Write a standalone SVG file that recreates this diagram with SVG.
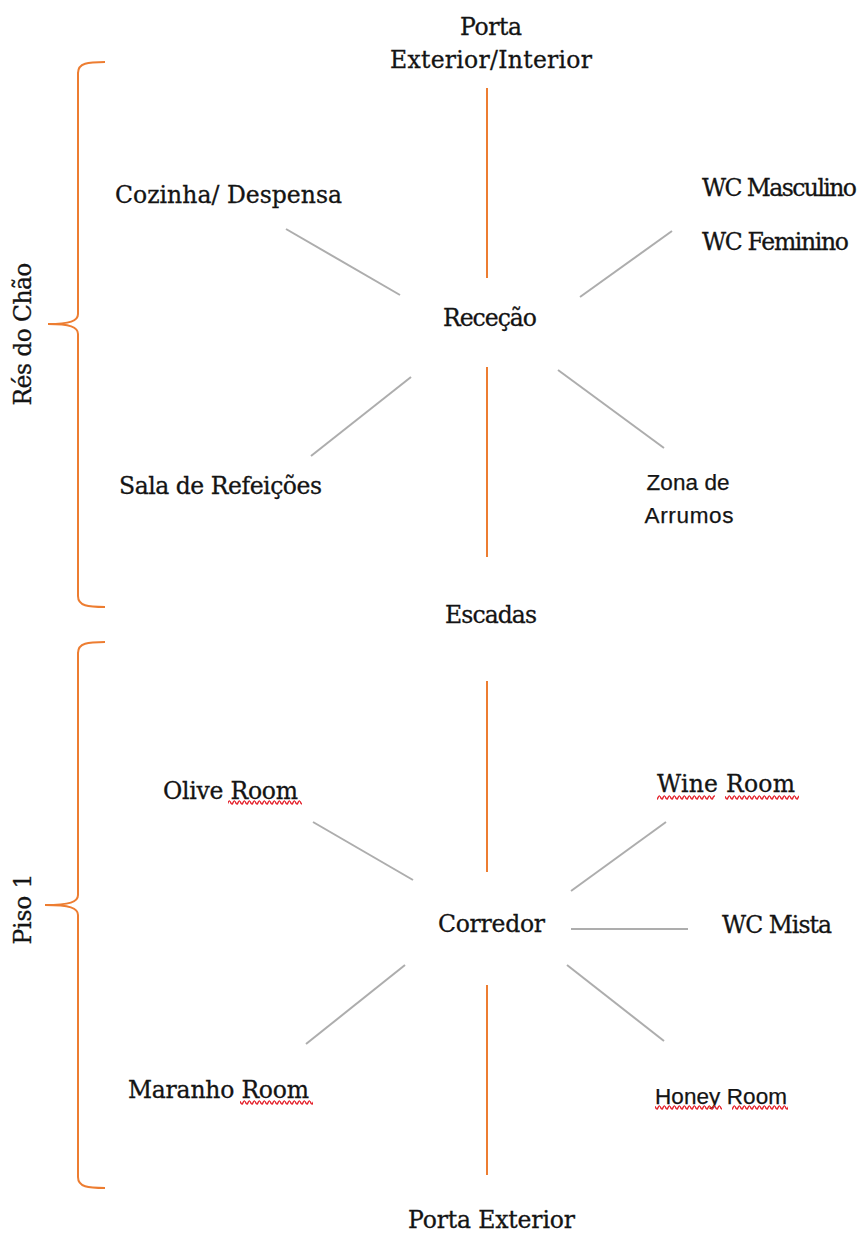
<svg xmlns="http://www.w3.org/2000/svg" width="861" height="1235" viewBox="0 0 861 1235">
<style>
.t{font-family:"DejaVu Serif","Liberation Serif",serif;font-size:23.5px;fill:#141414;stroke:#141414;stroke-width:0.3}
.c{font-family:"Liberation Sans","Open Sans",sans-serif;font-size:22.5px;fill:#141414;stroke:#141414;stroke-width:0.25}
.o{stroke:#ED7D31;stroke-width:2;fill:none}
.g{stroke:#ADADAD;stroke-width:2;fill:none}
</style>
<defs>
<pattern id="sq" width="5" height="5" patternUnits="userSpaceOnUse">
<path d="M0,1.2 Q1.25,4.5 2.5,3.8 Q3.75,0.5 5,1.2" stroke="#E4222C" stroke-width="1.4" fill="none"/>
</pattern>
</defs>
<rect width="861" height="1235" fill="#ffffff"/>

<g id="connectors">
<line class="o" x1="487" y1="88" x2="487" y2="278"/>
<line class="o" x1="487" y1="367" x2="487" y2="557"/>
<line class="o" x1="487" y1="681" x2="487" y2="872"/>
<line class="o" x1="487" y1="985" x2="487" y2="1175"/>
<line class="g" x1="286" y1="229" x2="400" y2="295"/>
<line class="g" x1="672" y1="231" x2="580" y2="297"/>
<line class="g" x1="411" y1="377" x2="311" y2="456"/>
<line class="g" x1="558" y1="370" x2="664" y2="448"/>
<line class="g" x1="313" y1="822" x2="413" y2="880"/>
<line class="g" x1="666" y1="822" x2="571" y2="891"/>
<line class="g" x1="571" y1="929" x2="688" y2="929"/>
<line class="g" x1="405" y1="965" x2="306" y2="1044"/>
<line class="g" x1="567" y1="965" x2="664" y2="1041"/>
</g>

<g id="brace-res-do-chao">
<path class="o" d="M105,62 C88,62 78,63 78,73 L78,314 C78,321 70,324 48,324 C70,324 78,327 78,334 L78,596 C78,606 88,607 105,607"/>
<text class="t" x="31" y="334" text-anchor="middle" textLength="143" transform="rotate(-90 31 334)">Rés do Chão</text>
</g>
<g id="brace-piso-1">
<path class="o" d="M105,642 C88,642 78,643 78,653 L78,895 C78,902 70,905 45,905 C70,905 78,908 78,915 L78,1177 C78,1187 88,1188 105,1188"/>
<text class="t" x="31" y="909" text-anchor="middle" textLength="71" transform="rotate(-90 31 909)">Piso 1</text>
</g>

<g id="porta-ext-int">
<text class="t" x="491" y="35" text-anchor="middle" textLength="62">Porta</text>
<text class="t" x="491" y="68" text-anchor="middle" textLength="202">Exterior/Interior</text>
</g>
<g id="cozinha"><text class="t" x="115" y="203" textLength="227">Cozinha/ Despensa</text></g>
<g id="wc-masculino"><text class="t" x="702" y="196" textLength="155">WC Masculino</text></g>
<g id="wc-feminino"><text class="t" x="702" y="250" textLength="147">WC Feminino</text></g>
<g id="rececao"><text class="t" x="443" y="326" textLength="94">Receção</text></g>
<g id="sala-refeicoes"><text class="t" x="119" y="494" textLength="203">Sala de Refeições</text></g>
<g id="zona-arrumos">
<text class="c" x="688" y="490" text-anchor="middle" textLength="83">Zona de</text>
<text class="c" x="689" y="523" text-anchor="middle" textLength="89">Arrumos</text>
</g>
<g id="escadas"><text class="t" x="445" y="623" textLength="92">Escadas</text></g>

<g id="olive-room">
<text class="t" x="163" y="799" textLength="135">Olive Room</text>
<rect x="228" y="800" width="74" height="5" fill="url(#sq)"/>
</g>
<g id="wine-room">
<text class="t" x="657" y="792" textLength="138">Wine Room</text>
<rect x="657" y="795" width="58" height="5" fill="url(#sq)"/>
<rect x="725" y="795" width="74" height="5" fill="url(#sq)"/>
</g>
<g id="corredor"><text class="t" x="438" y="932" textLength="107">Corredor</text></g>
<g id="wc-mista"><text class="t" x="722" y="933" textLength="110">WC Mista</text></g>
<g id="maranho-room">
<text class="t" x="128" y="1098" textLength="181">Maranho Room</text>
<rect x="240" y="1100" width="73" height="5" fill="url(#sq)"/>
</g>
<g id="honey-room">
<text class="c" x="655" y="1104" textLength="132">Honey Room</text>
<rect x="655" y="1105" width="67" height="5" fill="url(#sq)"/>
<rect x="732" y="1105" width="56" height="5" fill="url(#sq)"/>
</g>
<g id="porta-exterior"><text class="t" x="408" y="1228" textLength="167">Porta Exterior</text></g>
</svg>
